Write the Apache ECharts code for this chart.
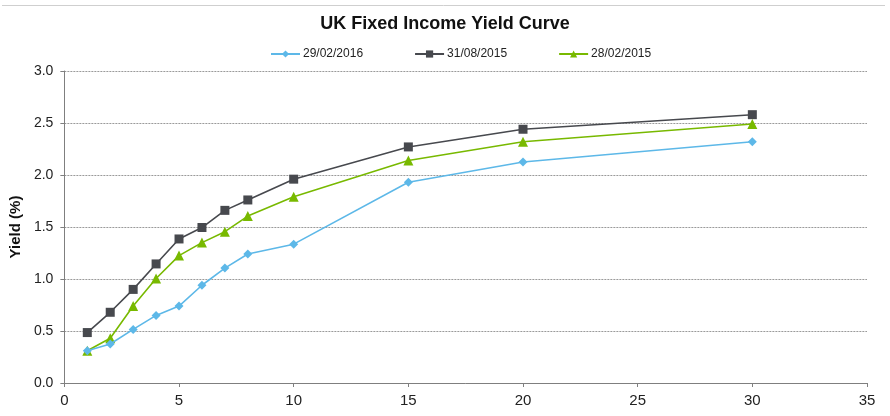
<!DOCTYPE html>
<html><head><meta charset="utf-8">
<script src="https://cdn.jsdelivr.net/npm/echarts@6/dist/echarts.min.js"></script>
<style>html,body{margin:0;padding:0;background:#fff}#c{width:890px;height:416px}</style>
</head><body><div id="c"></div>
<script>
const maturities = [1, 2, 3, 4, 5, 6, 7, 8, 10, 15, 20, 30];
const seriesNames = ['29/02/2016', '31/08/2015', '28/02/2015'];
const yields2016Feb = [0.31, 0.375, 0.515, 0.65, 0.74, 0.94, 1.105, 1.24, 1.335, 1.93, 2.125, 2.32];
const yields2015Aug = [0.485, 0.68, 0.90, 1.145, 1.385, 1.495, 1.66, 1.76, 1.96, 2.27, 2.44, 2.58];
const yields2015Feb = [0.31, 0.43, 0.74, 1.005, 1.225, 1.35, 1.455, 1.605, 1.79, 2.14, 2.32, 2.49];
const title = 'UK Fixed Income Yield Curve';
const yAxisName = 'Yield (%)';

const colors = ['#5db8e8', '#47494e', '#78b900'];
const symbols = ['diamond', 'rect', 'triangle'];
const symbolSizes = [9, 9, 10];
const dataSets = [yields2016Feb, yields2015Aug, yields2015Feb];

const chart = echarts.init(document.getElementById('c'));
chart.setOption({
  animation: false,
  color: colors,
  textStyle: { fontFamily: 'Liberation Sans, Arial, sans-serif' },
  title: {
    text: title, left: 'center', top: 10,
    textStyle: { fontSize: 18, fontWeight: 'bold', color: '#111', fontFamily: 'Liberation Sans, Arial, sans-serif' }
  },
  graphic: [{
    type: 'line', shape: { x1: 2, y1: 5.5, x2: 885, y2: 5.5 },
    style: { stroke: '#cfcfcf', lineWidth: 1 }, silent: true
  }],
  legend: {
    top: 43, left: 265, itemGap: 51, itemWidth: 29, itemHeight: 9,
    textStyle: { fontSize: 12, color: '#222', padding: [0, 0, 0, -2] },
    data: seriesNames
  },
  grid: { left: 63, right: 23, top: 71, bottom: 33 },
  xAxis: {
    type: 'value', min: 0, max: 35, interval: 5,
    axisLine: { lineStyle: { color: '#7f7f7f', width: 1 } },
    axisTick: { show: true, length: 4, lineStyle: { color: '#7f7f7f' } },
    axisLabel: { fontSize: 15, color: '#222', margin: 10 },
    splitLine: { show: false }
  },
  yAxis: {
    type: 'value', min: 0, max: 3, interval: 0.5,
    name: yAxisName, nameLocation: 'middle', nameGap: 37,
    nameTextStyle: { fontSize: 15, fontWeight: 'bold', color: '#111' },
    axisLine: { show: true, lineStyle: { color: '#7f7f7f', width: 1 } },
    axisTick: { show: true, length: 4, lineStyle: { color: '#7f7f7f' } },
    axisLabel: { fontSize: 14, color: '#222', margin: 11, formatter: v => v.toFixed(1) },
    splitLine: { show: true, lineStyle: { color: '#9a9a9a', type: [2, 1], width: 1 } }
  },
  series: dataSets.map((d, i) => ({
    name: seriesNames[i], type: 'line',
    data: maturities.map((m, j) => [m, d[j]]),
    symbol: symbols[i], symbolSize: symbolSizes[i], showAllSymbol: true,
    lineStyle: { width: 1.6, color: colors[i] },
    itemStyle: { color: colors[i] },
    z: 3 - i
  }))
});
</script></body></html>
